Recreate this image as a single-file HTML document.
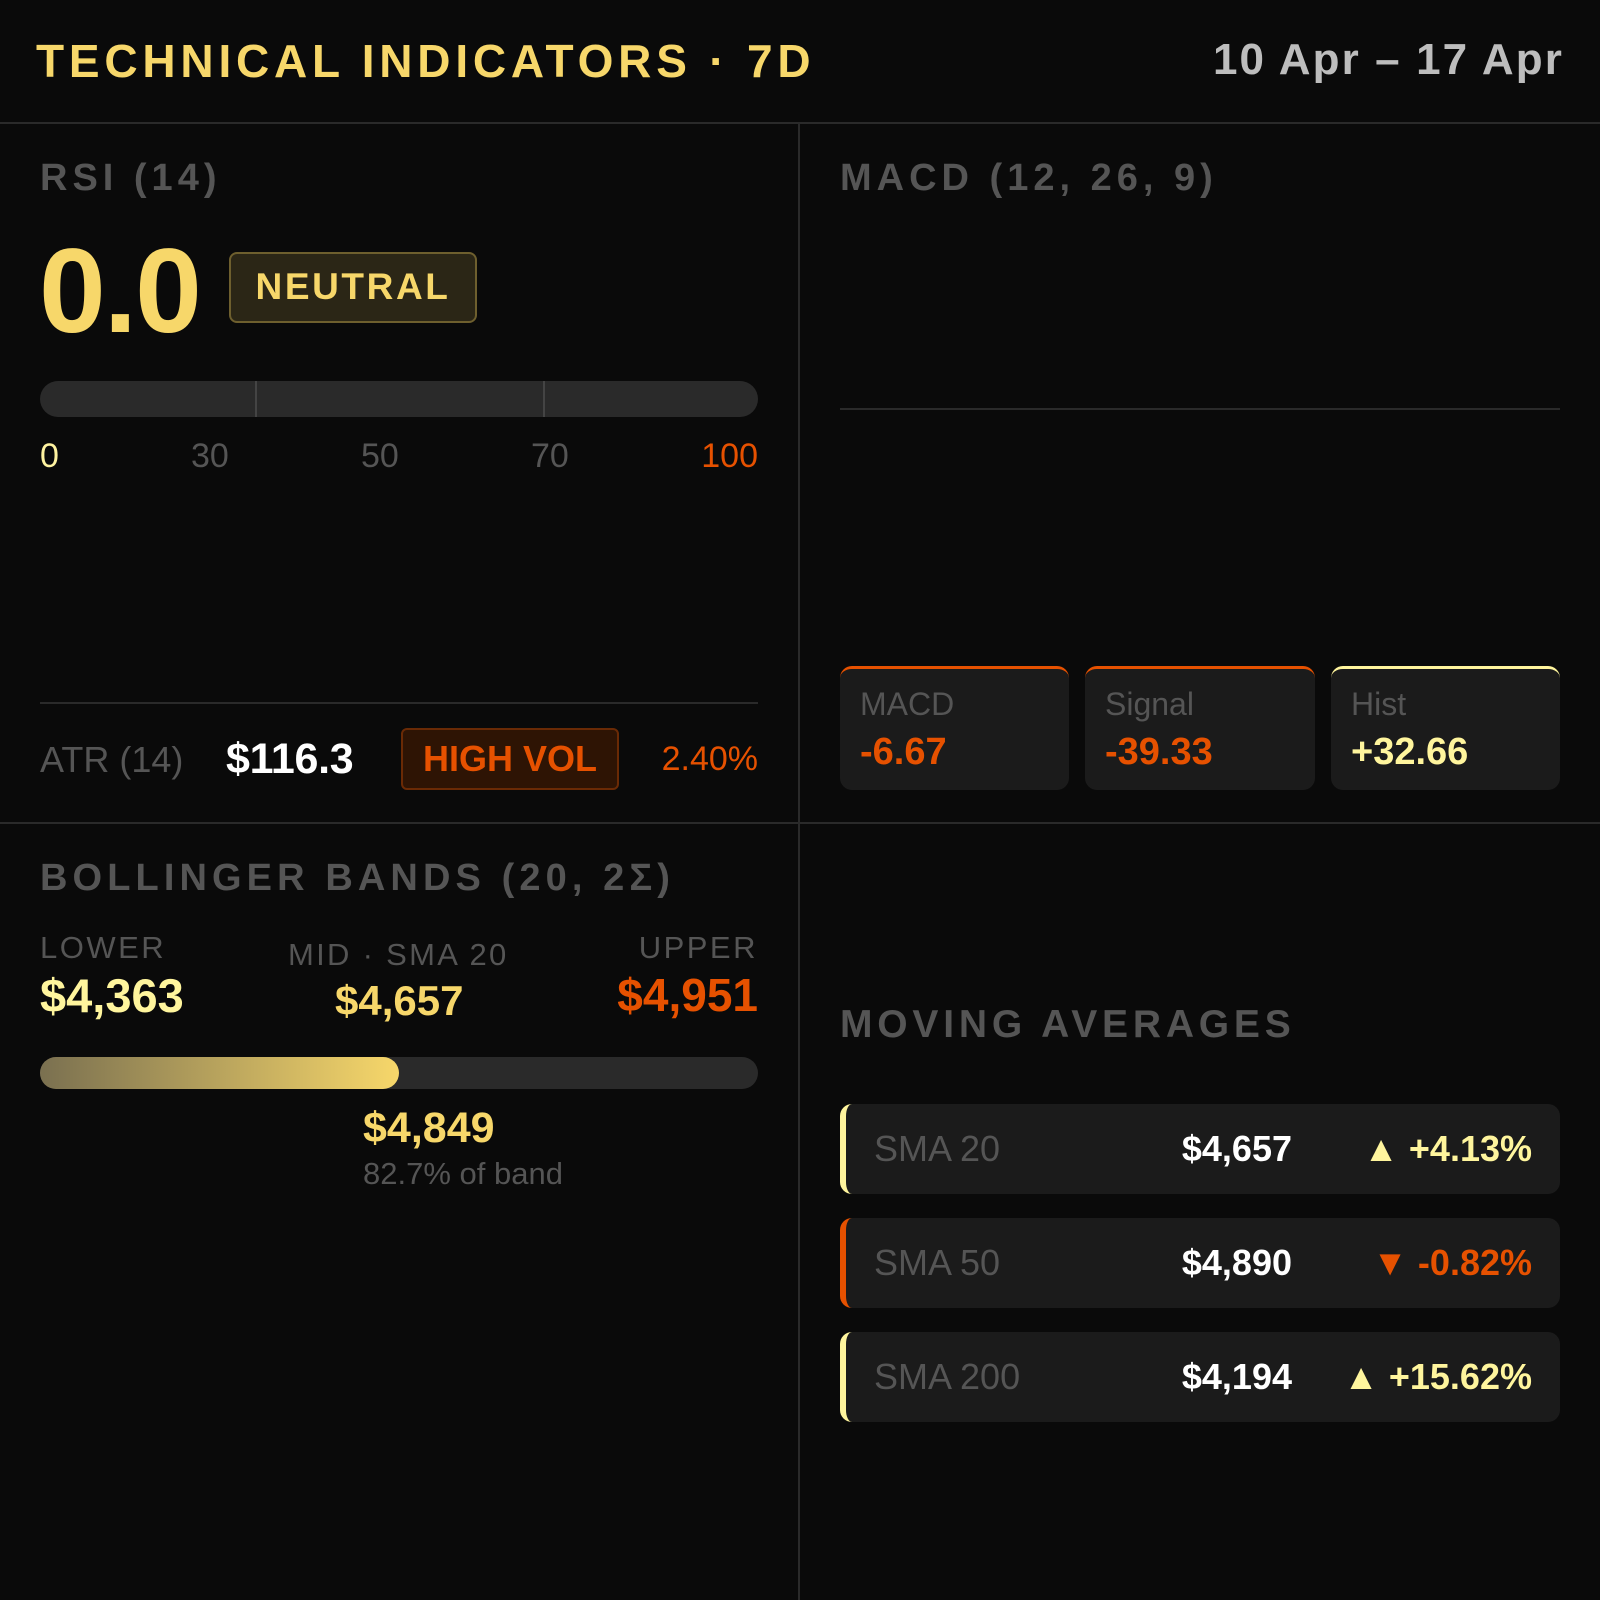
<!DOCTYPE html>
<html><head><meta charset="utf-8"><style>
*{margin:0;padding:0;box-sizing:border-box}
body{width:1600px;height:1600px;background:#0a0a0a;font-family:"Liberation Sans",sans-serif;position:relative;overflow:hidden}
.a{position:absolute;line-height:1;white-space:nowrap}
.b{font-weight:bold}
.card{position:absolute;background:#1b1b1b;border-radius:12px}
</style></head><body>
<div class="a b" style="left:36px;top:38px;font-size:46px;letter-spacing:4.8px;color:#f7d76a">TECHNICAL INDICATORS · 7D</div>
<div class="a b" style="right:36px;top:38px;font-size:44px;letter-spacing:2.1px;color:#bdbdbd">10 Apr – 17 Apr</div>
<div style="position:absolute;left:0;top:122px;width:1600px;height:2px;background:#2a2a2a"></div>
<div style="position:absolute;left:798px;top:123px;width:2px;height:1477px;background:#2a2a2a"></div>
<div style="position:absolute;left:0;top:822px;width:1600px;height:2px;background:#2a2a2a"></div>

<!-- RSI -->
<div class="a b" style="left:40px;top:159px;font-size:38px;letter-spacing:5px;color:#555">RSI (14)</div>
<div class="a b" style="left:39px;top:231px;font-size:120px;color:#f7d76a;letter-spacing:-2px">0.0</div>
<div style="position:absolute;left:229px;top:252px;width:248px;height:71px;background:#2b2616;border:2px solid #6e5f2e;border-radius:8px;color:#f7d76a;font-weight:bold;font-size:37px;letter-spacing:2.6px;text-align:center;line-height:65px">NEUTRAL</div>
<div style="position:absolute;left:40px;top:381px;width:718px;height:36px;background:#2a2a2a;border-radius:18px"></div>
<div style="position:absolute;left:255px;top:381px;width:2px;height:36px;background:#444"></div>
<div style="position:absolute;left:543px;top:381px;width:2px;height:36px;background:#444"></div>
<div class="a" style="left:40px;top:439px;font-size:34px;color:#fff3a0">0</div>
<div class="a" style="left:191px;top:439px;font-size:34px;color:#555">30</div>
<div class="a" style="left:361px;top:439px;font-size:34px;color:#555">50</div>
<div class="a" style="left:531px;top:439px;font-size:34px;color:#555">70</div>
<div class="a" style="right:842px;top:439px;font-size:34px;color:#e65100">100</div>
<div style="position:absolute;left:40px;top:702px;width:718px;height:2px;background:#2a2a2a"></div>
<div class="a" style="left:40px;top:742px;font-size:36px;color:#555">ATR (14)</div>
<div class="a b" style="left:226px;top:738px;font-size:43px;color:#fff;letter-spacing:-0.3px">$116.3</div>
<div style="position:absolute;left:401px;top:728px;width:218px;height:62px;background:#2e1404;border:2px solid #6a2a05;border-radius:6px;color:#e65100;font-weight:bold;font-size:36px;text-align:center;line-height:58px">HIGH VOL</div>
<div class="a" style="right:842px;top:742px;font-size:34px;color:#e65100">2.40%</div>

<!-- MACD -->
<div class="a b" style="left:840px;top:159px;font-size:38px;letter-spacing:5px;color:#555">MACD (12, 26, 9)</div>
<div style="position:absolute;left:840px;top:408px;width:720px;height:2px;background:#2a2a2a"></div>
<div class="card" style="left:840px;top:666px;width:229px;height:124px;border-top:3px solid #e65100"></div>
<div class="card" style="left:1085px;top:666px;width:230px;height:124px;border-top:3px solid #e65100"></div>
<div class="card" style="left:1331px;top:666px;width:229px;height:124px;border-top:3px solid #fff59d"></div>
<div class="a" style="left:860px;top:688px;font-size:32px;color:#555">MACD</div>
<div class="a b" style="left:860px;top:733px;font-size:38px;color:#e65100">-6.67</div>
<div class="a" style="left:1105px;top:688px;font-size:32px;color:#555">Signal</div>
<div class="a b" style="left:1105px;top:733px;font-size:38px;color:#e65100">-39.33</div>
<div class="a" style="left:1351px;top:688px;font-size:32px;color:#555">Hist</div>
<div class="a b" style="left:1351px;top:733px;font-size:38px;color:#fff59d">+32.66</div>

<!-- Bollinger -->
<div class="a b" style="left:40px;top:859px;font-size:38px;letter-spacing:5.1px;color:#555">BOLLINGER BANDS (20, 2Σ)</div>
<div class="a" style="left:40px;top:932px;font-size:31px;letter-spacing:2.5px;color:#555">LOWER</div>
<div class="a b" style="left:40px;top:972px;font-size:47px;color:#fff59d">$4,363</div>
<div class="a" style="left:288px;top:939px;font-size:31px;letter-spacing:2.3px;color:#555">MID · SMA 20</div>
<div class="a b" style="left:335px;top:980px;font-size:42px;color:#f7d76a">$4,657</div>
<div class="a" style="right:842px;top:932px;font-size:31px;letter-spacing:2.5px;color:#555">UPPER</div>
<div class="a b" style="right:842px;top:972px;font-size:46px;color:#e65100">$4,951</div>
<div style="position:absolute;left:40px;top:1057px;width:718px;height:32px;background:#2a2a2a;border-radius:16px"></div>
<div style="position:absolute;left:40px;top:1057px;width:359px;height:32px;background:linear-gradient(90deg,#7a7050,#f7d76a);border-radius:16px"></div>
<div class="a b" style="left:363px;top:1107px;font-size:43px;color:#f7d76a">$4,849</div>
<div class="a" style="left:363px;top:1158px;font-size:31px;color:#555">82.7% of band</div>

<!-- Moving averages -->
<div class="a b" style="left:840px;top:1005px;font-size:39px;letter-spacing:4.8px;color:#555">MOVING AVERAGES</div>
<div class="card" style="left:840px;top:1104px;width:720px;height:90px;border-left:6px solid #fff59d"></div>
<div class="card" style="left:840px;top:1218px;width:720px;height:90px;border-left:6px solid #e65100"></div>
<div class="card" style="left:840px;top:1332px;width:720px;height:90px;border-left:6px solid #fff59d"></div>
<div class="a" style="left:874px;top:1131px;font-size:36px;color:#555">SMA 20</div>
<div class="a b" style="right:308px;top:1131px;font-size:36px;color:#fff">$4,657</div>
<div class="a b" style="right:68px;top:1131px;font-size:36px;color:#fff59d">▲ +4.13%</div>
<div class="a" style="left:874px;top:1245px;font-size:36px;color:#555">SMA 50</div>
<div class="a b" style="right:308px;top:1245px;font-size:36px;color:#fff">$4,890</div>
<div class="a b" style="right:68px;top:1245px;font-size:36px;color:#e65100">▼ -0.82%</div>
<div class="a" style="left:874px;top:1359px;font-size:36px;color:#555">SMA 200</div>
<div class="a b" style="right:308px;top:1359px;font-size:36px;color:#fff">$4,194</div>
<div class="a b" style="right:68px;top:1359px;font-size:36px;color:#fff59d">▲ +15.62%</div>
</body></html>
